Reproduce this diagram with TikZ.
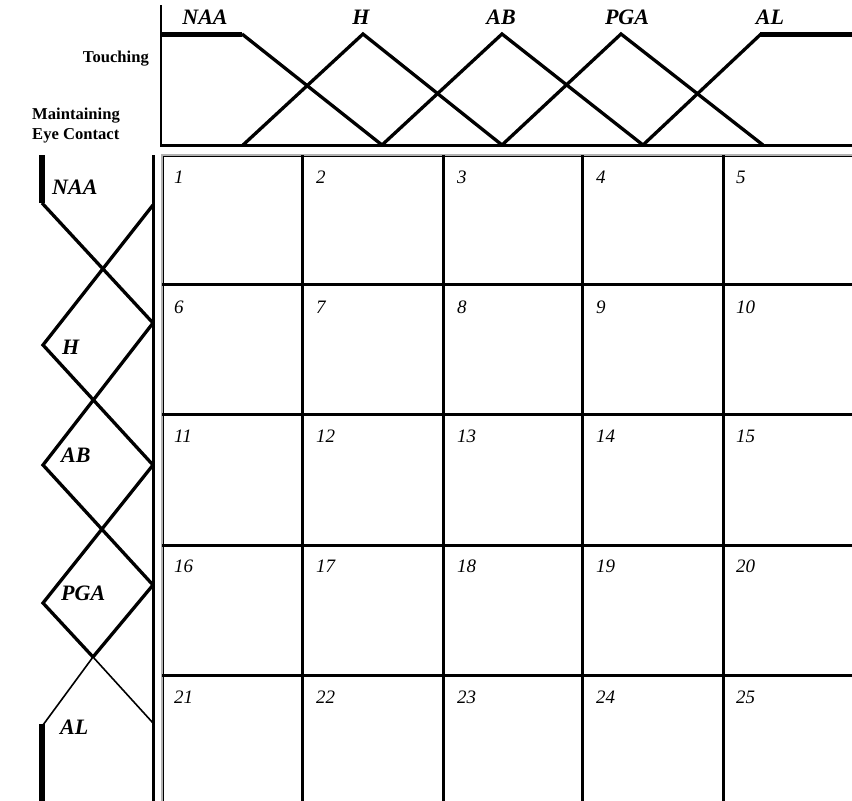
\documentclass[tikz,border=0pt]{standalone}
\usepackage{fontspec}
\setmainfont{Liberation Serif}
\begin{document}
\begin{tikzpicture}[x=1pt,y=-1pt,
  mf/.style={line width=3.3pt},
  mfthin/.style={line width=1.6pt},
  plateau/.style={line width=5.5pt},
  axis/.style={line width=3pt},
  grid/.style={line width=3pt},
  setlabel/.style={inner sep=0pt, font=\fontsize{22}{26}\selectfont\bfseries\itshape},
  axlabel/.style={inner sep=0pt, font=\fontsize{16.6}{20}\selectfont\bfseries},
  cellnum/.style={inner sep=0pt, anchor=base west, font=\fontsize{19}{22}\selectfont\itshape}]
\useasboundingbox (0,0) rectangle (852,801);

% ---------- top panel (Touching) ----------
\draw[line width=2pt] (161,5) -- (161,146);
\draw[axis] (160,145) -- (852,145);
\draw[plateau] (161,34.5) -- (242,34.5);
\draw[mf] (242,34) -- (382,145);
\draw[mf] (243,145) -- (363,34) -- (502,145);
\draw[mf] (382,145) -- (502,34) -- (643,145);
\draw[mf] (502,145) -- (621,34) -- (763,145);
\draw[mf] (643,145) -- (761,34);
\draw[plateau] (760,34.5) -- (852,34.5);

\node[setlabel] (tNAA) at (205,17) {NAA};
\node[setlabel] (tH)   at (361,17) {H};
\node[setlabel] (tAB)  at (501,17) {AB};
\node[setlabel] (tPGA) at (627,17) {PGA};
\node[setlabel] (tAL)  at (770,17) {AL};

\node[axlabel, anchor=east] (touch) at (149,59) {Touching};
\node[axlabel, anchor=north west, align=left] (eye) at (32,108) {Maintaining\\Eye Contact};

% ---------- left panel (Maintaining Eye Contact) ----------
\draw[axis] (153,155) -- (153,801);
\draw[plateau] (42,155) -- (42,203);
\draw[mf] (42,203) -- (153,323);
\draw[mf] (153,205) -- (43,345) -- (153,465);
\draw[mf] (153,323) -- (43,465) -- (153,585);
\draw[mf] (153,465) -- (43,603) -- (93,657);
\draw[mfthin] (93,657) -- (153,723);
\draw[mf] (153,585) -- (93,657);
\draw[mfthin] (93,657) -- (43,725);
\draw[plateau] (42,724) -- (42,801);

\node[setlabel, anchor=west] (lNAA) at (52,187) {NAA};
\node[setlabel, anchor=west] (lH)   at (62,347) {H};
\node[setlabel, anchor=west] (lAB)  at (61,455) {AB};
\node[setlabel, anchor=west] (lPGA) at (61,593) {PGA};
\node[setlabel, anchor=west] (lAL)  at (60,727) {AL};

% ---------- grid ----------
\draw[gray!60, line width=3pt] (162,801) -- (162,155.5) -- (852,155.5);
\draw[black, line width=0.8pt] (163,801) -- (163,156.5) -- (852,156.5);
\foreach \x in {302,443,582,723} \draw[grid] (\x,155) -- (\x,801);
\foreach \y in {284,414,545,675} \draw[grid] (162,\y) -- (852,\y);

\foreach \r/\b [count=\i from 0] in {0/183,1/313,2/442,3/572,4/703} {
  \foreach \cx [count=\j from 1] in {174,316,457,596,736} {
    \pgfmathtruncatemacro{\n}{\r*5+\j}
    \node[cellnum] (c\n) at (\cx,\b) {\n};
  }
}
\end{tikzpicture}
\end{document}
